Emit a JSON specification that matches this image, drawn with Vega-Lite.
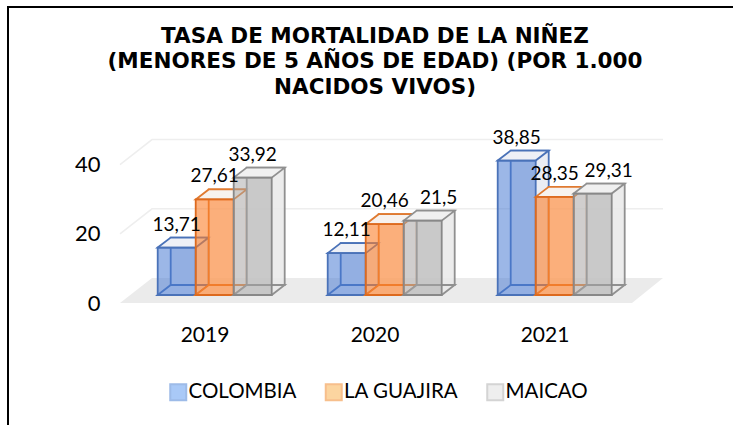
{
"$schema":"https://vega.github.io/schema/vega-lite/v6.json",
"width":510,"height":138.4,
"autosize":"none",
"padding":{"left":120,"top":164.6,"right":103,"bottom":122},
"background":"white",
"title":{"text":["TASA DE MORTALIDAD DE LA NIÑEZ","(MENORES DE 5 AÑOS DE EDAD) (POR 1.000","NACIDOS VIVOS)"],"font":"DejaVu Sans","fontSize":21.5,"fontWeight":"bold","color":"#000000","lineHeight":25.5,"anchor":"middle","offset":-95},
"config":{"view":{"stroke":null},"font":"Lato"},
"datasets":{
"bars":[
{"year":"2019","series":"COLOMBIA","value":13.71,"label":"13,71"},{"year":"2020","series":"COLOMBIA","value":12.11,"label":"12,11"},{"year":"2021","series":"COLOMBIA","value":38.85,"label":"38,85"},
{"year":"2019","series":"LA GUAJIRA","value":27.61,"label":"27,61"},{"year":"2020","series":"LA GUAJIRA","value":20.46,"label":"20,46"},{"year":"2021","series":"LA GUAJIRA","value":28.35,"label":"28,35"},
{"year":"2019","series":"MAICAO","value":33.92,"label":"33,92"},{"year":"2020","series":"MAICAO","value":21.5,"label":"21,5"},{"year":"2021","series":"MAICAO","value":29.31,"label":"29,31"}],
"levels":[{"year":"2020","level":0},{"year":"2020","level":20},{"year":"2020","level":40}]
},
"encoding":{"x":{"field":"year","type":"nominal","scale":{"domain":["2019","2020","2021"],"paddingInner":0.33,"paddingOuter":0.165},"axis":{"title":null,"domain":false,"ticks":false,"labelAngle":0,"labelFont":"Lato","labelFontSize":21,"labelColor":"#000000","labelPadding":21}}},
"layer":[
{"data":{"name":"levels"},"transform":[{"filter":"datum.level==0"}],"mark":{"type":"point","filled":true,"size":4,"opacity":1,"fill":"#ebebeb","shape":"M -255 0 L -223 -25 L 288 -25 L 257 0 Z"},"encoding":{"y":{"field":"level","type":"quantitative","scale":{"domain":[0,40],"nice":false},"axis":{"title":null,"domain":false,"ticks":false,"grid":false,"values":[0,20,40],"labelFont":"Lato","labelFontSize":22,"labelColor":"#000000","labelPadding":20}}}},
{"data":{"name":"levels"},"transform":[{"filter":"datum.level>0"}],"mark":{"type":"point","filled":false,"size":4,"opacity":1,"stroke":"#eeeeee","strokeWidth":1.5,"shape":"M -255 0 L -223 -25 L 288 -25"},"encoding":{"y":{"field":"level","type":"quantitative"}}},
{"data":{"name":"levels"},"transform":[{"filter":"datum.level==0"}],"mark":{"type":"point","filled":false,"size":4,"opacity":1,"stroke":"#000000","strokeWidth":2,"shape":"M 358 -296 L -367 -296 L -367 122"},"encoding":{"y":{"field":"level","type":"quantitative"}}},
{"data":{"name":"bars"},"mark":{"type":"point","filled":true,"size":0,"opacity":1},"encoding":{"y":{"field":"value","type":"quantitative"},
"fill":{"field":"series","type":"nominal","scale":{"domain":["COLOMBIA","LA GUAJIRA","MAICAO"],"range":["#a9c9f7","#fcd5a0","#eeeeee"]},"legend":{"title":null,"orient":"none","legendX":48,"legendY":217,"direction":"horizontal","symbolType":"square","symbolSize":256,"symbolStrokeWidth":2,"labelFont":"Lato","labelFontSize":20.5,"labelColor":"#000000","labelOffset":0,"columnPadding":24.5,"symbolOpacity":1}},
"stroke":{"field":"series","type":"nominal","scale":{"domain":["COLOMBIA","LA GUAJIRA","MAICAO"],"range":["#9dbbe8","#f7bf8c","#d4d4d4"]},"legend":{"title":null,"orient":"none","legendX":48,"legendY":217,"direction":"horizontal","symbolType":"square","symbolSize":256,"symbolStrokeWidth":2,"labelFont":"Lato","labelFontSize":20.5,"labelColor":"#000000","labelOffset":0,"columnPadding":24.5,"symbolOpacity":1}}}},

{"data":{"name":"bars"},"transform":[{"filter":"datum.series=='COLOMBIA'"}],"mark":{"type":"bar","width":38,"xOffset":-15.3,"yOffset":-18,"y2Offset":-18,"fill":"#eaedf4","stroke":"#4a72b8","strokeWidth":1.8},"encoding":{"y":{"field":"value","type":"quantitative"}}},
{"data":{"name":"bars"},"transform":[{"filter":"datum.series=='COLOMBIA'"}],"mark":{"type":"point","filled":true,"size":4,"opacity":1,"xOffset":-28.3,"yOffset":-8,"fill":"#eaedf4","stroke":"#4a72b8","strokeWidth":1.8,"shape":"M -19 0 L -6 -10 L 32 -10 L 19 0 Z"},"encoding":{"y":{"datum":0}}},
{"data":{"name":"bars"},"transform":[{"filter":"datum.series=='COLOMBIA'"}],"mark":{"type":"point","filled":true,"size":4,"opacity":1,"xOffset":-28.3,"yOffset":-8,"fill":"#eef0f6","stroke":"#4a72b8","strokeWidth":1.8,"shape":"M -19 0 L -6 -10 L 32 -10 L 19 0 Z"},"encoding":{"y":{"field":"value","type":"quantitative"}}},
{"data":{"name":"bars"},"transform":[{"filter":"datum.series=='COLOMBIA'"}],"mark":{"type":"bar","width":38,"xOffset":-28.3,"yOffset":-8,"y2Offset":-8,"fill":"#4a7bd4","fillOpacity":0.55,"stroke":"#4a72b8","strokeWidth":1.8},"encoding":{"y":{"field":"value","type":"quantitative"}}},

{"data":{"name":"bars"},"transform":[{"filter":"datum.series=='LA GUAJIRA'"}],"mark":{"type":"bar","width":38,"xOffset":22.7,"yOffset":-18,"y2Offset":-18,"fill":"#f6f1ec","fillOpacity":0.6,"stroke":"#e07a30","strokeWidth":1.8},"encoding":{"y":{"field":"value","type":"quantitative"}}},
{"data":{"name":"bars"},"transform":[{"filter":"datum.series=='LA GUAJIRA'"}],"mark":{"type":"point","filled":true,"size":4,"opacity":1,"xOffset":9.7,"yOffset":-8,"fill":"#f6f1ec","stroke":"#e07a30","strokeWidth":1.8,"shape":"M -19 0 L -6 -10 L 32 -10 L 19 0 Z"},"encoding":{"y":{"datum":0}}},
{"data":{"name":"bars"},"transform":[{"filter":"datum.series=='LA GUAJIRA'"}],"mark":{"type":"point","filled":true,"size":4,"opacity":1,"xOffset":9.7,"yOffset":-8,"fill":"#f7f2ee","stroke":"#e07a30","strokeWidth":1.8,"shape":"M -19 0 L -6 -10 L 32 -10 L 19 0 Z"},"encoding":{"y":{"field":"value","type":"quantitative"}}},
{"data":{"name":"bars"},"transform":[{"filter":"datum.series=='LA GUAJIRA'"}],"mark":{"type":"bar","width":38,"xOffset":9.7,"yOffset":-8,"y2Offset":-8,"fill":"#fc7f2a","fillOpacity":0.6,"stroke":"#dd6a1e","strokeWidth":1.8},"encoding":{"y":{"field":"value","type":"quantitative"}}},

{"data":{"name":"bars"},"transform":[{"filter":"datum.series=='MAICAO'"}],"mark":{"type":"bar","width":38,"xOffset":60.7,"yOffset":-18,"y2Offset":-18,"fill":"#e9e9e9","fillOpacity":0.85,"stroke":"#909090","strokeWidth":1.8},"encoding":{"y":{"field":"value","type":"quantitative"}}},
{"data":{"name":"bars"},"transform":[{"filter":"datum.series=='MAICAO'"}],"mark":{"type":"point","filled":true,"size":4,"opacity":1,"xOffset":47.7,"yOffset":-8,"fill":"#e9e9e9","stroke":"#909090","strokeWidth":1.8,"shape":"M -19 0 L -6 -10 L 32 -10 L 19 0 Z"},"encoding":{"y":{"datum":0}}},
{"data":{"name":"bars"},"transform":[{"filter":"datum.series=='MAICAO'"}],"mark":{"type":"point","filled":true,"size":4,"opacity":1,"xOffset":47.7,"yOffset":-8,"fill":"#f0f0f0","stroke":"#909090","strokeWidth":1.8,"shape":"M -19 0 L -6 -10 L 32 -10 L 19 0 Z"},"encoding":{"y":{"field":"value","type":"quantitative"}}},
{"data":{"name":"bars"},"transform":[{"filter":"datum.series=='MAICAO'"}],"mark":{"type":"bar","width":38,"xOffset":47.7,"yOffset":-8,"y2Offset":-8,"fill":"#a5a5a5","fillOpacity":0.5,"stroke":"#888888","strokeWidth":1.8},"encoding":{"y":{"field":"value","type":"quantitative"}}},

{"data":{"name":"bars"},"transform":[{"filter":"datum.series=='COLOMBIA'"}],"mark":{"type":"text","font":"Lato","fontSize":19,"color":"#000000","xOffset":-28.3,"yOffset":-31},"encoding":{"y":{"field":"value","type":"quantitative"},"text":{"field":"label","type":"nominal"}}},
{"data":{"name":"bars"},"transform":[{"filter":"datum.series=='LA GUAJIRA'"}],"mark":{"type":"text","font":"Lato","fontSize":19,"color":"#000000","xOffset":9.7,"yOffset":-31},"encoding":{"y":{"field":"value","type":"quantitative"},"text":{"field":"label","type":"nominal"}}},
{"data":{"name":"bars"},"transform":[{"filter":"datum.series=='MAICAO' && datum.year=='2019'"}],"mark":{"type":"text","font":"Lato","fontSize":19,"color":"#000000","xOffset":47.7,"yOffset":-31},"encoding":{"y":{"field":"value","type":"quantitative"},"text":{"field":"label","type":"nominal"}}},
{"data":{"name":"bars"},"transform":[{"filter":"datum.series=='MAICAO' && datum.year!='2019'"}],"mark":{"type":"text","font":"Lato","fontSize":19,"color":"#000000","xOffset":63.7,"yOffset":-31},"encoding":{"y":{"field":"value","type":"quantitative"},"text":{"field":"label","type":"nominal"}}}
]
}
